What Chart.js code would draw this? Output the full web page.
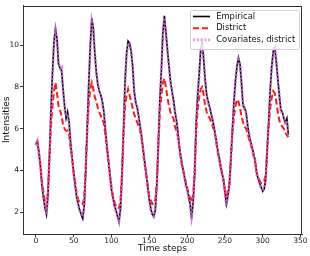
<!DOCTYPE html>
<html>
<head>
<meta charset="utf-8">
<title>Intensities</title>
<style>
  html, body { margin: 0; padding: 0; background: #fff; }
  canvas { display: block; }
</style>
<script src="https://cdn.jsdelivr.net/npm/chart.js"></script>
</head>
<body>
<canvas id="chart" width="310" height="256"></canvas>
<script>
  // values, one every 2 time steps (t = 0, 2, ..., 334)
  var step = 2;

  var empirical = [
    5.3, 5.4, 4.9, 4.2, 3.3, 2.7, 2.2, 1.9, 2.8, 4.7, 6.9, 8.7,
    10.2, 10.8, 10.3, 9.1, 8.9, 8.8, 7.9, 7.1, 6.5, 6.8, 6.3, 5.3,
    4.6, 3.9, 3.3, 2.7, 2.4, 2.1, 1.9, 1.7, 2.3, 4.0, 6.1, 8.2,
    10.0, 11.3, 10.8, 9.6, 8.7, 8.1, 7.8, 7.6, 7.3, 6.8, 5.9, 5.2,
    4.5, 3.8, 3.1, 2.7, 2.3, 2.1, 1.8, 1.55, 2.2, 3.8, 6.0, 8.3,
    9.6, 10.2, 10.1, 9.7, 9.0, 7.8, 7.3, 7.0, 6.6, 6.1, 5.6, 5.0,
    4.4, 3.8, 3.2, 2.6, 2.2, 1.9, 1.8, 2.1, 3.3, 5.3, 7.4, 8.8,
    10.6, 11.4, 10.6, 9.8, 9.0, 8.3, 7.8, 7.4, 6.8, 6.4, 5.8, 5.1,
    4.6, 4.2, 3.8, 3.4, 3.1, 2.8, 2.4, 1.7, 2.5, 3.8, 6.3, 7.6,
    8.6, 9.8, 10.1, 9.3, 8.3, 7.6, 7.3, 7.0, 6.7, 6.4, 6.0, 5.6,
    5.1, 4.7, 4.3, 3.9, 3.6, 3.0, 2.4, 2.8, 3.3, 4.6, 6.0, 7.3,
    8.3, 9.0, 9.4, 9.1, 8.2, 7.1, 7.0, 6.8, 6.2, 5.7, 5.4, 5.1,
    4.8, 4.5, 3.9, 3.6, 3.4, 3.2, 3.0, 3.1, 3.6, 5.0, 6.4, 7.9,
    9.0, 9.7, 9.9, 9.2, 8.4, 7.6, 6.9, 6.8, 6.5, 6.3, 6.5, 5.7
  ];

  var district = [
    5.3, 5.3, 4.9, 4.3, 3.5, 3.0, 2.5, 2.3, 3.0, 4.6, 6.2, 7.1,
    7.8, 8.2, 7.7, 7.1, 6.9, 6.6, 6.2, 6.0, 5.9, 5.9, 5.7, 5.1,
    4.6, 3.9, 3.4, 2.9, 2.6, 2.5, 2.5, 2.4, 2.7, 4.2, 6.0, 7.2,
    7.9, 8.2, 7.9, 7.5, 7.3, 7.0, 6.8, 6.6, 6.5, 6.2, 5.7, 5.0,
    4.4, 3.8, 3.2, 2.8, 2.5, 2.3, 2.2, 2.2, 2.6, 3.9, 5.8, 7.1,
    7.6, 7.9, 7.6, 7.3, 7.0, 6.7, 6.5, 6.3, 6.1, 5.9, 5.5, 4.9,
    4.3, 3.8, 3.3, 2.8, 2.6, 2.4, 2.4, 2.6, 3.4, 5.2, 6.8, 7.6,
    8.2, 8.4, 8.0, 7.5, 7.1, 6.8, 6.6, 6.5, 6.1, 5.9, 5.6, 5.0,
    4.5, 4.1, 3.8, 3.5, 3.2, 2.9, 2.7, 2.5, 2.8, 3.9, 5.8, 6.9,
    7.5, 7.9, 8.0, 7.6, 7.1, 6.8, 6.6, 6.5, 6.3, 6.1, 5.9, 5.5,
    5.0, 4.6, 4.3, 3.9, 3.6, 3.1, 2.8, 3.0, 3.4, 4.6, 5.8, 6.6,
    7.1, 7.4, 7.3, 7.0, 6.6, 6.3, 6.1, 6.0, 5.8, 5.5, 5.3, 5.0,
    4.7, 4.4, 3.9, 3.7, 3.5, 3.4, 3.4, 3.5, 3.8, 5.0, 6.2, 7.0,
    7.5, 7.8, 7.7, 7.3, 6.8, 6.4, 6.2, 6.1, 6.0, 5.8, 5.7, 5.6
  ];

  var covariates = [
    5.2, 5.4, 4.8, 4.2, 3.4, 2.7, 2.3, 1.9, 2.7, 4.6, 6.8, 8.6,
    10.1, 10.7, 10.2, 9.2, 8.8, 8.9, 7.8, 7.0, 6.6, 6.7, 6.2, 5.4,
    4.5, 3.9, 3.2, 2.8, 2.3, 2.1, 2.0, 1.8, 2.3, 3.9, 6.0, 8.1,
    9.9, 11.1, 10.7, 9.7, 8.6, 8.2, 7.7, 7.6, 7.2, 6.8, 6.0, 5.1,
    4.5, 3.7, 3.1, 2.6, 2.4, 2.0, 1.9, 1.6, 2.2, 3.7, 6.0, 8.2,
    9.5, 10.1, 10.0, 9.8, 8.9, 7.9, 7.2, 7.1, 6.5, 6.1, 5.5, 5.0,
    4.3, 3.9, 3.1, 2.6, 2.1, 1.9, 1.8, 2.2, 3.2, 5.2, 7.3, 8.9,
    10.5, 11.3, 10.7, 9.7, 9.1, 8.2, 7.9, 7.3, 6.9, 6.3, 5.8, 5.0,
    4.6, 4.1, 3.9, 3.3, 3.1, 2.7, 2.4, 1.8, 2.4, 3.9, 6.2, 7.6,
    8.5, 9.7, 10.0, 9.4, 8.2, 7.6, 7.2, 7.1, 6.6, 6.4, 5.9, 5.6,
    5.0, 4.7, 4.2, 3.9, 3.5, 3.0, 2.3, 2.8, 3.2, 4.6, 5.9, 7.3,
    8.2, 9.0, 9.3, 9.1, 8.1, 7.2, 6.9, 6.8, 6.1, 5.8, 5.3, 5.1,
    4.7, 4.5, 3.8, 3.6, 3.3, 3.2, 3.0, 3.2, 3.5, 5.0, 6.3, 7.9,
    8.9, 9.6, 9.9, 9.3, 8.3, 7.7, 6.9, 6.7, 6.5, 6.2, 6.4, 5.7
  ];

  var xTicks = [0, 50, 100, 150, 200, 250, 300, 350];
  var yTicks = [2, 4, 6, 8, 10];
  var seriesNames = ["Empirical", "District", "Covariates, district"];

  function toPoints(values) {
    return values.map(function (v, i) {
      return { x: i * step, y: v };
    });
  }

  Chart.defaults.font.family = "'DejaVu Sans', sans-serif";

  // full box around the plot like matplotlib spines
  var frame = {
    id: "frame",
    afterDraw: function (chart) {
      var a = chart.chartArea;
      var ctx = chart.ctx;
      ctx.save();
      ctx.strokeStyle = "#333";
      ctx.lineWidth = 1;
      ctx.strokeRect(Math.round(a.left) + 0.5, Math.round(a.top) + 0.5,
        Math.round(a.right - a.left) - 1, Math.round(a.bottom - a.top) - 1);
      ctx.restore();
    }
  };

  // legend drawn inside the plot, upper right
  var innerLegend = {
    id: "innerLegend",
    afterDraw: function (chart) {
      var ctx = chart.ctx;
      var a = chart.chartArea;
      var sets = chart.data.datasets;
      ctx.save();
      ctx.font = "8.4px 'DejaVu Sans'";
      var maxW = 0;
      sets.forEach(function (ds) {
        maxW = Math.max(maxW, ctx.measureText(ds.label).width);
      });
      var pad = 3.3, handle = 17, gap = 6.2, row = 11.7;
      var w = pad + handle + gap + maxW + pad;
      var h = row * sets.length + 4.3;
      var x0 = a.right - 3.5 - w;
      var y0 = a.top + 4.3;
      ctx.fillStyle = "rgba(255,255,255,0.8)";
      ctx.strokeStyle = "#d0d0d0";
      ctx.lineWidth = 1;
      ctx.beginPath();
      ctx.roundRect(Math.round(x0) + 0.5, Math.round(y0) + 0.5, Math.round(w), Math.round(h), 2);
      ctx.fill();
      ctx.stroke();
      sets.forEach(function (ds, i) {
        var cy = y0 + 6.7 + i * row;
        ctx.setLineDash(ds.borderDash || []);
        ctx.strokeStyle = ds.legendColor || ds.borderColor;
        ctx.lineWidth = ds.borderWidth;
        ctx.beginPath();
        ctx.moveTo(x0 + pad, cy);
        ctx.lineTo(x0 + pad + handle, cy);
        ctx.stroke();
        ctx.setLineDash([]);
        ctx.fillStyle = "#111";
        ctx.textBaseline = "middle";
        ctx.fillText(ds.label, x0 + pad + handle + gap, cy);
      });
      ctx.restore();
    }
  };

  var ctx = document.getElementById("chart").getContext("2d");
  var chart = new Chart(ctx, {
    type: "line",
    data: {
      datasets: [
        {
          label: seriesNames[0],
          data: toPoints(empirical),
          borderColor: "#000",
          borderWidth: 1.6,
          order: 2
        },
        {
          label: seriesNames[1],
          data: toPoints(district),
          borderColor: "rgba(255,0,0,0.9)",
          borderWidth: 2,
          borderDash: [6, 3],
          order: 1
        },
        {
          label: seriesNames[2],
          data: toPoints(covariates),
          borderColor: "rgba(200,100,215,0.85)",
          legendColor: "rgba(238,130,238,0.85)",
          borderWidth: 2.6,
          borderDash: [2, 1.8],
          order: 0
        }
      ]
    },
    options: {
      responsive: false,
      animation: false,
      devicePixelRatio: 1,
      layout: { padding: { top: 3, right: 8, left: 0, bottom: 0 } },
      elements: {
        point: { radius: 0 },
        line: { tension: 0, fill: false, borderCapStyle: "butt" }
      },
      plugins: {
        legend: { display: false },
        tooltip: { enabled: false }
      },
      scales: {
        x: {
          type: "linear",
          min: -17,
          max: 352,
          afterFit: function (s) { s.height = 22; },
          afterBuildTicks: function (s) {
            s.ticks = xTicks.map(function (v) { return { value: v }; });
          },
          grid: { drawOnChartArea: false, tickLength: 3, color: "#333" },
          border: { color: "#333" },
          ticks: { font: { size: 7.5 }, color: "#222", padding: 0, maxRotation: 0, autoSkip: false },
          title: {
            display: true,
            text: "Time steps",
            font: { size: 9 },
            color: "#111",
            padding: { top: 0, bottom: 2 }
          }
        },
        y: {
          type: "linear",
          min: 0.96,
          max: 11.9,
          afterFit: function (s) { s.width = 23; },
          afterBuildTicks: function (s) {
            s.ticks = yTicks.map(function (v) { return { value: v }; });
          },
          grid: { drawOnChartArea: false, tickLength: 3, color: "#333" },
          border: { color: "#333" },
          ticks: { font: { size: 7.5 }, color: "#222", padding: 1 },
          title: {
            display: true,
            text: "Intensities",
            font: { size: 9 },
            color: "#111",
            padding: { top: 1, bottom: 0 }
          }
        }
      }
    },
    plugins: [frame, innerLegend]
  });
</script>
</body>
</html>
